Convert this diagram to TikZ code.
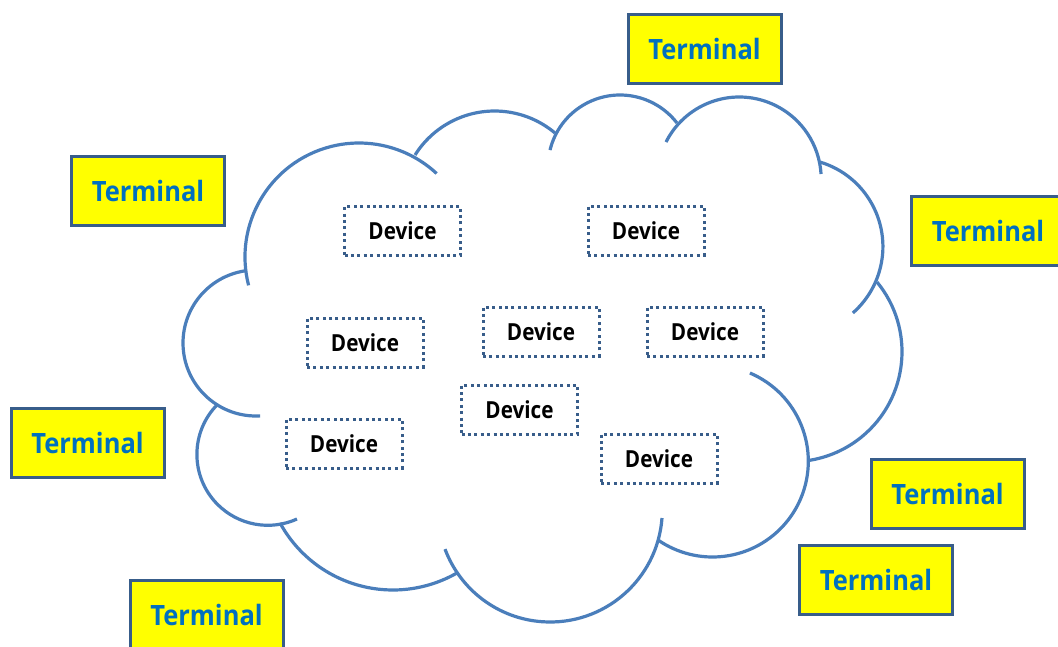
\documentclass[tikz,border=0pt]{standalone}
\usepackage{graphicx}
\usepackage{fontspec}
\setmainfont{Open Sans}
\definecolor{cloudblue}{HTML}{4A7EBB}
\definecolor{edgeblue}{HTML}{385D8A}
\definecolor{termtext}{HTML}{0070C0}
\definecolor{termfill}{HTML}{FFFF00}
\newcommand{\narrow}[2][0.88]{\scalebox{#1}[1]{#2}}
\tikzset{
  cloudline/.style={draw=cloudblue, line width=3.2pt},
  terminal/.style={draw=edgeblue, line width=3pt, fill=termfill, text=termtext,
    minimum width=153pt, minimum height=69pt, inner sep=0pt,
    font=\bfseries\fontsize{28}{28}\selectfont},
  device/.style={draw=edgeblue, line width=3pt, dash pattern=on 3pt off 3.4pt,
    minimum width=116pt, minimum height=49pt, inner sep=0pt, text=black,
    font=\bfseries\fontsize{23.5}{24}\selectfont}
}
% cloud lobe: centre x, centre y, radius, start angle, end angle
\newcommand{\lobe}[5]{\draw[cloudline] (#1,#2) ++(#4:#3) arc[start angle=#4, end angle=#5, radius=#3];}
\newcommand{\term}{\narrow[0.91]{Terminal}}
\newcommand{\dev}{\narrow{Device}}
\begin{document}
\begin{tikzpicture}[x=1pt, y=1pt]
\begin{scope}[yscale=-1]
\useasboundingbox (0,0) rectangle (1058,646);
\fill[white] (0,0) rectangle (1058,646);

% cloud outline
\lobe{256}{343}{73}{86.7}{261.4}
\lobe{359}{257}{114}{165.6}{312.9}
\lobe{494.6}{204.9}{93.9}{212.1}{310}
\lobe{620}{167}{72}{193.6}{322.3}
\lobe{739.2}{179}{82}{206.8}{356.5}
\lobe{794.6}{246.6}{88.3}{286.7}{408.7}
\lobe{792.1}{351.8}{109.9}{320.6}{441.7}
\lobe{712.5}{461.2}{95.8}{293}{484.7}
\lobe{550.1}{509.8}{112.2}{4.2}{159.5}
\lobe{393}{461.3}{128.7}{151.4}{60.2}
\lobe{267.8}{454.4}{70.9}{225.3}{65.7}

% devices inside the cloud
\node[device] (d1) at (402.5,231) {\dev};
\node[device] (d2) at (646,230.5) {\dev};
\node[device] (d3) at (365,342.5) {\dev};
\node[device] (d4) at (541,331.5) {\dev};
\node[device] (d5) at (705,331.5) {\dev};
\node[device] (d6) at (519.5,409.5) {\dev};
\node[device] (d7) at (344,443.5) {\dev};
\node[device] (d8) at (659,458.5) {\dev};

% terminals around the cloud
\node[terminal] (t1) at (704.5,48.5) {\term};
\node[terminal] (t2) at (148,190.5) {\term};
\node[terminal] (t3) at (988,231) {\term};
\node[terminal] (t4) at (87.5,443) {\term};
\node[terminal] (t5) at (947.5,493.5) {\term};
\node[terminal] (t6) at (876,579.5) {\term};
\node[terminal] (t7) at (206.5,614.5) {\term};
\end{scope}
\end{tikzpicture}
\end{document}
